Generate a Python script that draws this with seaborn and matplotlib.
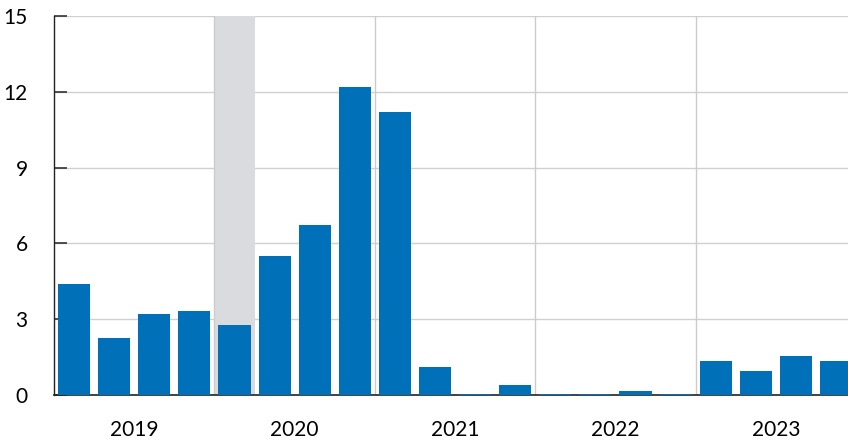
import numpy as np
import pandas as pd
import matplotlib.pyplot as plt
import seaborn as sns

# quarterly values, 2019Q1 .. 2023Q4
quarters = [f'{y}Q{q}' for y in range(2019, 2024) for q in range(1, 5)]
values = [4.4, 2.25, 3.2, 3.32, 2.78,
          5.52, 6.73, 12.17, 11.2, 1.1,
          0.03, 0.4, 0.03, 0.03, 0.17,
          0.03, 1.35, 0.95, 1.55, 1.33]
years = ['2019', '2020', '2021', '2022', '2023']
shaded_quarter = '2020Q1'

df = pd.DataFrame({'quarter': quarters, 'value': values})

sns.set_style('white')
plt.rcParams['font.family'] = ['Lato', 'DejaVu Sans']

fig = plt.figure(figsize=(8.48, 4.43), dpi=100)
ax = fig.add_axes([0.0637, 0.1084, 0.9363, 0.8555])

sns.barplot(data=df, x='quarter', y='value', color='#0070b8', saturation=1,
            width=0.8, edgecolor='none', ax=ax, zorder=3)

# recession-style shading
i = quarters.index(shaded_quarter)
ax.axvspan(i - 0.5, i + 0.5, color='#d9dbde', zorder=1, lw=0)

# year separators
for k in range(1, len(years)):
    ax.axvline(4 * k - 0.5, color='#cccccc', lw=1, zorder=2)

ax.set_ylim(0, 15)
ax.set_yticks([0, 3, 6, 9, 12, 15])
ax.yaxis.grid(True, color='#d0d0d0', lw=1, zorder=0)
ax.set_axisbelow(True)
ax.set_xlim(-0.5, 19.3)

ax.set_xticks([4 * k + 1.5 for k in range(len(years))])
ax.set_xticklabels(years)
ax.tick_params(axis='x', length=0, pad=18, labelsize=15, labelcolor='black')
ax.tick_params(axis='y', direction='in', length=9, width=1.2, color='#333333',
               left=True, pad=19, labelsize=15, labelcolor='black')
ax.set_xlabel('')
ax.set_ylabel('')

for s in ['top', 'right']:
    ax.spines[s].set_visible(False)
ax.spines['left'].set_color('#222222')
ax.spines['bottom'].set_color('#222222')
ax.spines['left'].set_linewidth(1)
ax.spines['bottom'].set_linewidth(1.2)

fig.savefig('out.png', dpi=100)
